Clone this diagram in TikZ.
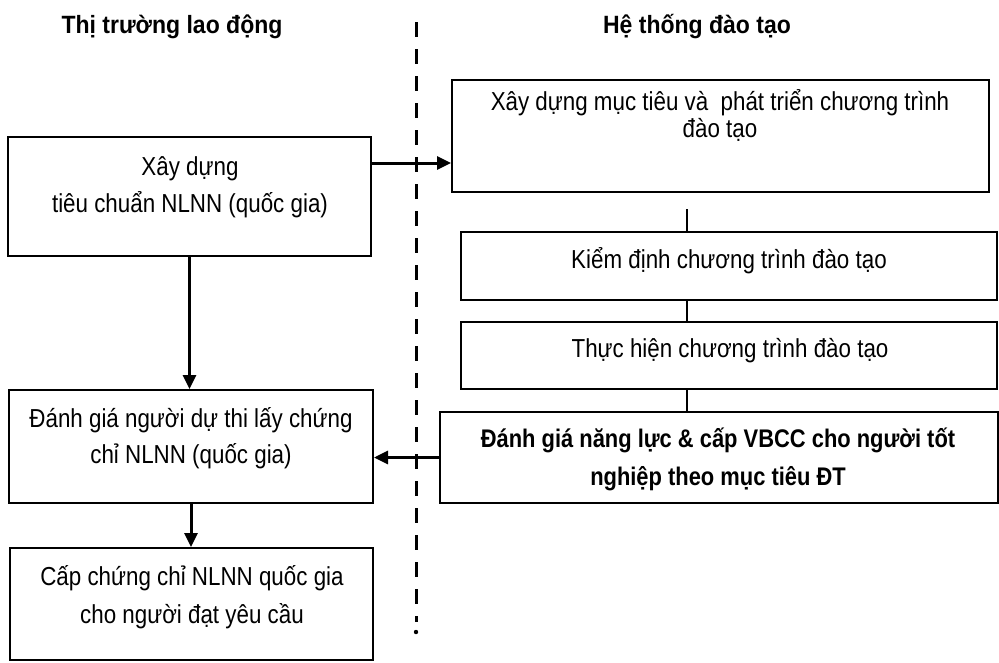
\documentclass[tikz,border=0pt]{standalone}
\usepackage{fontspec}
\setmainfont{Liberation Sans}[FakeStretch=0.86]
\newfontfamily\boldf{Liberation Sans Bold}[FakeStretch=0.92]
\newfontfamily\boldn{Liberation Sans Bold}[FakeStretch=0.86]
\usetikzlibrary{arrows.meta,calc}
\begin{document}
\begin{tikzpicture}[x=0.75pt,y=-0.75pt,
  box/.style={draw,line width=1.5pt,inner sep=0pt},
  txt/.style={anchor=base,inner sep=0pt,font=\fontsize{19.5}{22}\selectfont},
  btxt/.style={anchor=base,inner sep=0pt,font=\boldn\fontsize{19.1}{22}\selectfont},
  head/.style={anchor=base,inner sep=0pt,font=\boldf\fontsize{18.75}{22}\selectfont},
  arr/.style={line width=2.25pt,-{Triangle[length=10.5pt,width=9.75pt]}},
  thin/.style={line width=1.5pt}]
\useasboundingbox (0,0) rectangle (999,662);
% headings
\node[head] (h1) at (172,33) {Thị trường lao động};
\node[head] (h2) at (697,33) {Hệ thống đào tạo};
% divider
\coordinate (dtop) at (416,22);
\coordinate (dbot) at (416,622);
\draw[line width=2.25pt,dash pattern=on 11.25pt off 9pt] (dtop) -- (dbot);
\fill (416,632) circle[radius=2.2];
% left boxes
\node[box,minimum width=272.25pt,minimum height=89.25pt] (l1) at (189.5,196.5) {};
\node[txt] (l1a) at (190,175) {Xây dựng};
\node[txt] (l1b) at (190,212) {tiêu chuẩn NLNN (quốc gia)};
\node[box,minimum width=273pt,minimum height=84.75pt] (l2) at (191,446.5) {};
\node[txt] (l2a) at (191,427) {Đánh giá người dự thi lấy chứng};
\node[txt] (l2b) at (191,463) {chỉ NLNN (quốc gia)};
\node[box,minimum width=272.25pt,minimum height=84pt] (l3) at (191.5,604) {};
\node[txt] (l3a) at (192,585) {Cấp chứng chỉ NLNN quốc gia};
\node[txt] (l3b) at (192,623) {cho người đạt yêu cầu};
% right boxes
\node[box,minimum width=402.75pt,minimum height=84pt] (r1) at (720.5,136) {};
\node[txt] (r1a) at (720,110) {Xây dựng mục tiêu và\ \ phát triển chương trình};
\node[txt] (r1b) at (720,137) {đào tạo};
\node[box,minimum width=402pt,minimum height=51pt] (r2) at (729,266) {};
\node[txt] (r2a) at (729,268) {Kiểm định chương trình đào tạo};
\node[box,minimum width=402pt,minimum height=50.25pt] (r3) at (729,355.5) {};
\node[txt] (r3a) at (730,357) {Thực hiện chương trình đào tạo};
\node[box,minimum width=418.5pt,minimum height=68.25pt] (r4) at (719,457.5) {};
\node[btxt] (r4a) at (718,447) {Đánh giá năng lực \& cấp VBCC cho người tốt};
\node[btxt] (r4b) at (718,485) {nghiệp theo mục tiêu ĐT};
% connectors
\coordinate (y1) at (0,163);
\draw[arr] (l1.east |- y1) -- (r1.west |- y1);
\draw[arr] (l1.south) -- (l1.south |- l2.north);
\draw[arr] (l2.south) -- (l2.south |- l3.north);
\draw[arr] (r4.west) -- (r4.west -| l2.east);
\coordinate (c1) at (687,209);
\draw[thin] (c1) -- (c1 |- r2.north);
\draw[thin] (r2.south -| c1) -- (r3.north -| c1);
\draw[thin] (r3.south -| c1) -- (r4.north -| c1);
\end{tikzpicture}
\end{document}
